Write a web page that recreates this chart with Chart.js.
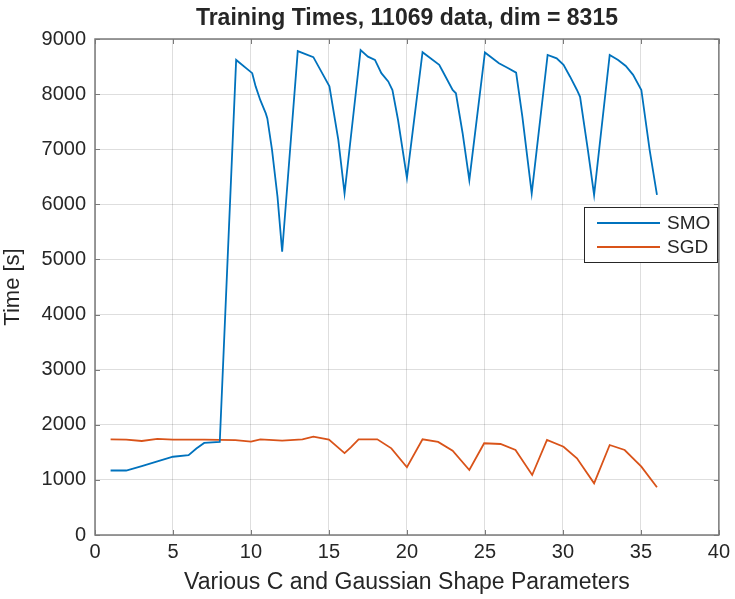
<!DOCTYPE html>
<html>
<head>
<meta charset="utf-8">
<script src="https://cdn.jsdelivr.net/npm/chart.js@4/dist/chart.umd.min.js"></script>
<style>
	html, body { margin: 0; padding: 0; background: #fff; }
	#wrap { width: 735px; height: 599px; position: relative; }
</style>
</head>
<body>
<div id="wrap"><canvas id="timesChart" width="735" height="599"></canvas></div>
<script>
// - - - - - data - - - - - //

const smoX = [1, 2, 3, 4, 5, 6, 6.5, 7, 8, 9.05, 10.08, 10.3, 10.6, 10.95, 11.05, 11.35, 11.7, 12,
	13, 14, 14.45, 15.03, 15.6, 16, 17.03, 17.5, 17.95, 18.36, 18.8, 19.07, 19.43, 20,
	21, 22.07, 22.3, 22.93, 23.14, 23.57, 24, 25, 25.9, 26.5, 27, 27.4, 28,
	29.02, 29.6, 30.04, 30.46, 30.9, 31.1, 31.6, 32, 33, 33.54, 34.03, 34.5, 35.03, 35.56, 36.03];
const smoY = [1170, 1170, 1250, 1335, 1420, 1450, 1570, 1670, 1690, 8620, 8380, 8140, 7890, 7650, 7560, 6990, 6140, 5140,
	8780, 8670, 8440, 8140, 7170, 6200, 8800, 8680, 8620, 8380, 8230, 8075, 7530, 6480,
	8760, 8530, 8410, 8075, 8015, 7290, 6440, 8755, 8560, 8470, 8390, 7590, 6200,
	8710, 8650, 8530, 8316, 8075, 7950, 6990, 6170, 8710, 8620, 8510, 8350, 8075, 6990, 6170];

const sgdX = [1, 2, 3, 4, 5, 6, 7, 8, 9, 10, 10.6, 12, 13.3, 14, 15, 16, 16.4, 16.9, 18.1, 19, 20,
	21, 22, 22.93, 24, 24.95, 26, 26.96, 28.03, 28.98, 30.04, 30.9, 32, 33, 33.96, 35.03, 36.03];
const sgdY = [1735, 1730, 1706, 1745, 1730, 1730, 1730, 1725, 1720, 1693, 1736, 1711, 1736, 1784, 1730, 1485, 1590, 1736, 1736, 1573, 1230,
	1736, 1688, 1530, 1180, 1664, 1651, 1542, 1089, 1724, 1602, 1392, 938, 1633, 1542, 1240, 865];

const xTicks = [0, 5, 10, 15, 20, 25, 30, 35, 40];
const yTicks = [0, 1000, 2000, 3000, 4000, 5000, 6000, 7000, 8000, 9000];

const seriesNames = ['SMO', 'SGD'];
const seriesColors = ['#0072BD', '#D95319'];

const titleText = 'Training Times, 11069 data, dim = 8315';
const xLabel = 'Various C and Gaussian Shape Parameters';
const yLabel = 'Time [s]';

const textColor = '#262626';
const boxColor = '#7a7a7a';
const fontName = '"Liberation Sans", Arial, Helvetica, sans-serif';

function toPoints(xs, ys) {
	return xs.map((x, i) => ({ x: x, y: ys[i] }));
}

// - - - - - box, inward ticks, title, legend - - - - - //

const matlabFrame = {
	id : 'matlabFrame',
	afterDraw(chart) {
		const ctx = chart.ctx;
		const area = chart.chartArea;
		const xs = chart.scales.x;
		const ys = chart.scales.y;
		const len = 5;

		ctx.save();
		ctx.strokeStyle = boxColor;
		ctx.lineWidth = 1;
		ctx.beginPath();
		xTicks.forEach(v => {
			const px = Math.round(xs.getPixelForValue(v)) + 0.5;
			ctx.moveTo(px, area.bottom); ctx.lineTo(px, area.bottom - len);
			ctx.moveTo(px, area.top); ctx.lineTo(px, area.top + len);
		});
		yTicks.forEach(v => {
			const py = Math.round(ys.getPixelForValue(v)) + 0.5;
			ctx.moveTo(area.left, py); ctx.lineTo(area.left + len, py);
			ctx.moveTo(area.right, py); ctx.lineTo(area.right - len, py);
		});
		ctx.stroke();
		ctx.lineWidth = 1.5;
		ctx.strokeRect(area.left, area.top, area.right - area.left, area.bottom - area.top);

		// title
		ctx.fillStyle = textColor;
		ctx.font = 'bold 23px ' + fontName;
		ctx.textAlign = 'center';
		ctx.textBaseline = 'middle';
		ctx.fillText(titleText, (area.left + area.right) / 2, 19);

		// legend
		const lx = 584, ly = 207, lw = 133, lh = 55;
		ctx.fillStyle = '#fff';
		ctx.fillRect(lx, ly, lw, lh);
		ctx.strokeStyle = textColor;
		ctx.lineWidth = 1;
		ctx.strokeRect(lx + 0.5, ly + 0.5, lw, lh);
		ctx.font = '19px ' + fontName;
		ctx.textAlign = 'left';
		seriesNames.forEach((name, i) => {
			const y = ly + 16 + i * 24;
			ctx.strokeStyle = seriesColors[i];
			ctx.lineWidth = 1.8;
			ctx.beginPath();
			ctx.moveTo(lx + 13, y);
			ctx.lineTo(lx + 76, y);
			ctx.stroke();
			ctx.fillStyle = textColor;
			ctx.fillText(name, lx + 83, y + 1);
		});
		ctx.restore();
	}
};

// - - - - - Line Chart - - - - - //

let timesChart = document.getElementById('timesChart').getContext('2d');

let trainChart = new Chart(timesChart, {
	type    : 'line',
	data    : {
		datasets : [
			{
				label       : seriesNames[0],
				data        : toPoints(smoX, smoY),
				borderColor : seriesColors[0],
				borderWidth : 1.8,
				pointRadius : 0,
				tension     : 0
			},
			{
				label       : seriesNames[1],
				data        : toPoints(sgdX, sgdY),
				borderColor : seriesColors[1],
				borderWidth : 1.8,
				pointRadius : 0,
				tension     : 0
			}
		]
	},
	options : {
		responsive          : false,
		animation           : false,
		maintainAspectRatio : false,
		layout              : { padding: { top: 39, right: 12, left: 0, bottom: 0 } },
		plugins             : {
			legend  : { display: false },
			title   : { display: false },
			tooltip : { enabled: false }
		},
		scales              : {
			x : {
				type     : 'linear',
				min      : 0,
				max      : 40,
				afterFit : scale => { scale.height = 64; },
				afterBuildTicks : scale => { scale.ticks = xTicks.map(v => ({ value: v })); },
				grid     : { color: 'rgba(0,0,0,0.13)', drawTicks: false },
				border   : { display: false },
				ticks    : { color: textColor, font: { family: fontName, size: 20 }, padding: 5, maxRotation: 0, callback: v => String(v) },
				title    : { display: true, text: xLabel, color: textColor, font: { family: fontName, size: 23 }, padding: { top: 0, bottom: 3 } }
			},
			y : {
				min      : 0,
				max      : 9000,
				afterFit : scale => { scale.width = 95; },
				afterBuildTicks : scale => { scale.ticks = yTicks.map(v => ({ value: v })); },
				grid     : { color: 'rgba(0,0,0,0.13)', drawTicks: false },
				border   : { display: false },
				ticks    : { color: textColor, font: { family: fontName, size: 20 }, padding: 9, callback: v => String(v) },
				title    : { display: true, text: yLabel, color: textColor, font: { family: fontName, size: 22 }, padding: { top: 0, bottom: 8 } }
			}
		}
	},
	plugins : [ matlabFrame ]
});
</script>
</body>
</html>
